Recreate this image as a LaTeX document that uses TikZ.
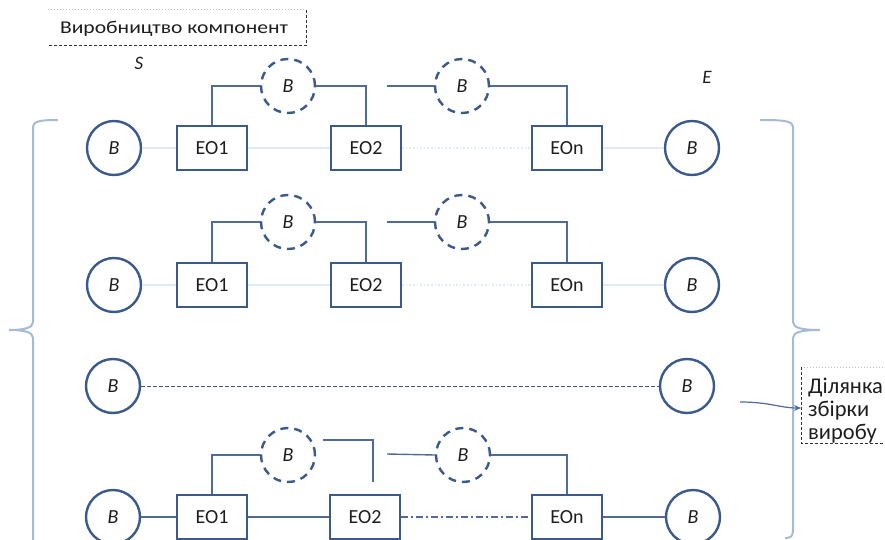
\documentclass[tikz,border=0pt]{standalone}
\usepackage{fontspec}
\setmainfont{Carlito}
\usetikzlibrary{arrows.meta}
\definecolor{boxcol}{RGB}{58,90,140}
\definecolor{linecol}{RGB}{78,108,150}
\definecolor{bracecol}{RGB}{165,186,212}
\definecolor{faintcol}{RGB}{222,235,247}
\definecolor{txtcol}{RGB}{30,30,30}
\tikzset{
  bcirc/.style={circle, draw=boxcol, line width=2.4pt, minimum size=54pt, inner sep=0pt,
    font=\fontsize{20}{20}\selectfont\itshape, text=txtcol},
  dcirc/.style={bcirc, dash pattern=on 8pt off 6pt},
  eobox/.style={rectangle, draw=boxcol, line width=2.4pt, minimum width=70pt, minimum height=44pt,
    inner sep=0pt, font=\fontsize{20}{20}\selectfont, text=txtcol},
  conn/.style={draw=linecol, line width=1.4pt},
  faint/.style={draw=faintcol, line width=1.6pt},
  brace/.style={draw=bracecol, line width=2pt},
  lbl/.style={font=\fontsize{19}{19}\selectfont\itshape, text=txtcol, inner sep=0pt},
  rlbl/.style={anchor=base west, inner sep=0pt, font=\fontsize{22.5}{22.5}\selectfont, text=txtcol},
}
\begin{document}
\begin{tikzpicture}[x=1pt,y=-1pt]
\useasboundingbox (0,0) rectangle (885,540);

% top label
\node[font=\fontsize{18}{18}\selectfont, text=txtcol, inner sep=0pt] (toplbl) at (174,29) {\scalebox{1.2}[1]{Виробництво компонент}};
\coordinate (tl) at (48,10);
\coordinate (tr) at (306,10);
\coordinate (bl) at (48,46);
\coordinate (br) at (306,46);
\draw[draw=black!25, line width=1pt, dotted] (tl) -- (tr);
\draw[draw=black!80, line width=1pt, dash pattern=on 3pt off 2pt] (tr) -- (br) -- (bl);

\node[lbl] (S) at (139,63) {S};
\node[lbl] (E) at (707,77) {E};

% ---------- Row 1 ----------
\node[bcirc] (b1l) at (114,148) {B};
\node[eobox] (r1a) at (212,148) {EO1};
\node[eobox] (r1b) at (366,148) {EO2};
\node[eobox] (r1n) at (567,148) {EOn};
\node[bcirc] (b1r) at (692,148) {B};
\node[dcirc] (d1a) at (288,86) {B};
\node[dcirc] (d1b) at (462,86) {B};
\coordinate (c1) at (387,86);
\draw[faint] (b1l) -- (r1a);
\draw[faint] (r1a) -- (r1b);
\draw[faint, dotted] (r1b) -- (r1n);
\draw[faint] (r1n) -- (b1r);
\draw[conn] (r1a.north) |- (d1a.west);
\draw[conn] (d1a.east) -| (r1b.north);
\draw[conn] (c1) -- (d1b.west);
\draw[conn] (d1b.east) -| (r1n.north);

% ---------- Row 2 ----------
\node[bcirc] (b2l) at (114,285) {B};
\node[eobox] (r2a) at (212,285) {EO1};
\node[eobox] (r2b) at (366,285) {EO2};
\node[eobox] (r2n) at (567,285) {EOn};
\node[bcirc] (b2r) at (692,285) {B};
\node[dcirc] (d2a) at (288,222) {B};
\node[dcirc] (d2b) at (462,222) {B};
\coordinate (c2) at (387,222);
\draw[faint] (b2l) -- (r2a);
\draw[faint] (r2a) -- (r2b);
\draw[faint, dotted] (r2b) -- (r2n);
\draw[faint] (r2n) -- (b2r);
\draw[conn] (r2a.north) |- (d2a.west);
\draw[conn] (d2a.east) -| (r2b.north);
\draw[conn] (c2) -- (d2b.west);
\draw[conn] (d2b.east) -| (r2n.north);

% ---------- Row 3 ----------
\node[bcirc] (b3l) at (113,386) {B};
\node[bcirc] (b3r) at (687,386) {B};
\draw[draw=boxcol, line width=0.9pt, dash pattern=on 3.5pt off 2.5pt] (b3l) -- (b3r);

% ---------- Row 4 ----------
\node[bcirc] (b4l) at (113,517) {B};
\node[eobox] (r4a) at (212,517) {EO1};
\node[eobox] (r4b) at (365,517) {EO2};
\node[eobox] (r4n) at (567,517) {EOn};
\node[bcirc] (b4r) at (693,517) {B};
\node[dcirc] (d4a) at (288,455) {B};
\node[dcirc] (d4b) at (463,455) {B};
\coordinate (c4s) at (323,440);
\coordinate (c4e) at (373,482);
\coordinate (c4) at (387,454);
\draw[conn] (b4l) -- (r4a);
\draw[conn] (r4a) -- (r4b);
\draw[conn, dash pattern=on 7pt off 3pt on 2pt off 3pt] (r4b) -- (r4n);
\draw[conn] (r4n) -- (b4r);
\draw[conn] (r4a.north) |- (d4a.west);
\draw[conn] (c4s) -| (c4e);
\draw[conn] (c4) -- (d4b.west);
\draw[conn] (d4b.east) -| (r4n.north);

% ---------- braces ----------
\draw[brace] (58,120) .. controls (40,120) and (33,121) .. (33,128) -- (33,322)
  .. controls (33,328) and (24,330) .. (9,330) .. controls (24,330) and (33,332) .. (33,338) -- (33,545);
\draw[brace] (760,120) .. controls (786,120) and (793,121) .. (793,128) -- (793,322)
  .. controls (793,328) and (802,330) .. (820,330) .. controls (802,330) and (793,332) .. (793,338)
  -- (793,530) .. controls (793,536) and (791,538) .. (785,538);

% ---------- right label ----------
\coordinate (rtl) at (801,367);
\coordinate (rbl) at (801,443);
\coordinate (rtr) at (885,367);
\coordinate (rbr) at (885,443);
\draw[draw=black!25, line width=1pt, dotted] (rtl) -- (rtr);
\draw[draw=black!80, line width=1pt, dash pattern=on 3pt off 2pt] (rtl) -- (rbl) -- (rbr);
\node[rlbl] (t1) at (808,393) {Ділянка};
\node[rlbl] (t2) at (808,416) {збірки};
\node[rlbl] (t3) at (808,439) {виробу};
\coordinate (arrs) at (740,402);
\draw[draw=linecol, line width=1.2pt, -{Stealth[length=7pt,width=6pt]}] (arrs) .. controls (770,402) and (780,408) .. (rtl |- 0,408);
\end{tikzpicture}
\end{document}
